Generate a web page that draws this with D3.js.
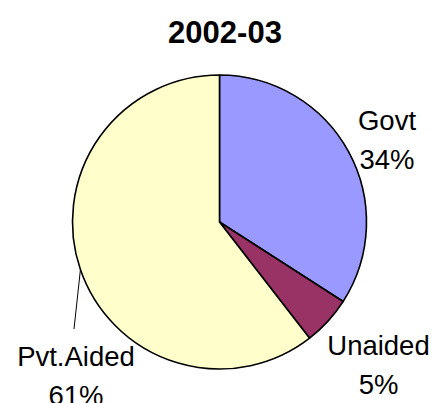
<!DOCTYPE html>
<html>
<head>
<meta charset="utf-8">
<script src="https://cdn.jsdelivr.net/npm/d3@7"></script>
<style>
  html, body { margin: 0; padding: 0; background: #fff; }
  svg { display: block; font-family: "Liberation Sans", Arial, sans-serif; }
</style>
</head>
<body>
<svg id="chart" width="435" height="403"></svg>
<script>
const title = "2002-03";
const categories = ["Govt", "Unaided", "Pvt.Aided"];
const values = [34.1, 5.4, 60.5];
const percentLabels = ["34%", "5%", "61%"];
const colors = ["#9999FF", "#993366", "#FFFFCC"];

const W = 435, H = 403;
const cx = 219.5, cy = 222, R = 147;

// label layout (centre x, first-line baseline y), leader flag
const labelLayout = [
  { x: 387, y: 130, leader: false },
  { x: 378.5, y: 355, leader: false },
  { x: 76, y: 366, leader: true }
];

const svg = d3.select("#chart");

svg.append("text")
  .attr("x", 225).attr("y", 43)
  .attr("text-anchor", "middle")
  .attr("font-size", 31).attr("font-weight", "bold")
  .attr("fill", "#000")
  .text(title);

const data = categories.map((c, i) => ({ cat: c, value: values[i], pct: percentLabels[i], color: colors[i], lay: labelLayout[i] }));

const pie = d3.pie().sort(null).value(d => d.value);
const arcs = pie(data);
const arc = d3.arc().innerRadius(0).outerRadius(R);

const g = svg.append("g").attr("transform", `translate(${cx},${cy})`);

g.selectAll("path.slice")
  .data(arcs)
  .enter().append("path")
  .attr("class", "slice")
  .attr("d", arc)
  .attr("fill", d => d.data.color)
  .attr("stroke", "#000")
  .attr("stroke-width", 1.6)
  .attr("stroke-linejoin", "round");

// leader lines
arcs.forEach(a => {
  if (!a.data.lay.leader) return;
  const mid = (a.startAngle + a.endAngle) / 2;
  const ex = cx + R * Math.sin(mid), ey = cy - R * Math.cos(mid);
  svg.append("line")
    .attr("x1", ex).attr("y1", ey)
    .attr("x2", a.data.lay.x - 2).attr("y2", a.data.lay.y - 37)
    .attr("stroke", "#000").attr("stroke-width", 1);
});

// labels
arcs.forEach(a => {
  const t = svg.append("text")
    .attr("text-anchor", "middle")
    .attr("font-size", 27.5)
    .attr("fill", "#000");
  t.append("tspan").attr("x", a.data.lay.x).attr("y", a.data.lay.y).text(a.data.cat);
  t.append("tspan").attr("x", a.data.lay.x).attr("y", a.data.lay.y + 39).text(a.data.pct);
});
</script>
</body>
</html>
